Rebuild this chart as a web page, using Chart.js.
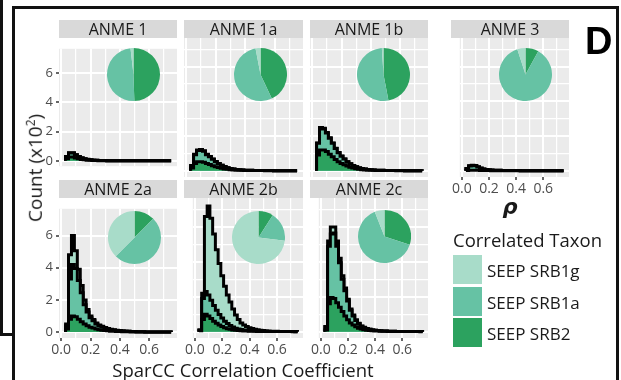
<!DOCTYPE html>
<html>
<head>
<meta charset="utf-8">
<script src="https://cdn.jsdelivr.net/npm/chart.js@4.4.1/dist/chart.umd.min.js"></script>
<style>
  body { margin: 0; background: #fff; }
  #fig { position: relative; width: 621px; height: 380px; overflow: hidden; font-family: 'Open Sans', sans-serif; }
  #fig canvas { position: absolute; }
  .strip { position: absolute; height: 18px; line-height: 18px; background: #d9d9d9; color: #1a1a1a; font-size: 16px; text-align: center; }
  .rule { position: absolute; background: #111; }
  .txt { position: absolute; white-space: nowrap; color: #1a1a1a; }
  .key { position: absolute; width: 29px; height: 29px; }
</style>
</head>
<body>
<div id="fig"></div>
<script>
// facets and taxa
const facets = ['ANME 1', 'ANME 1a', 'ANME 1b', 'ANME 3', 'ANME 2a', 'ANME 2b', 'ANME 2c'];
const taxa = ['SEEP SRB1g', 'SEEP SRB1a', 'SEEP SRB2'];
const taxonColors = ['#a8dcc9', '#66c2a4', '#2ca25f'];

// histogram bin edges (SparCC rho), bins are 0.02 wide
const binEdges = [0.03, 0.05, 0.07, 0.09, 0.11, 0.13, 0.15, 0.17, 0.19, 0.21, 0.23, 0.25,
  0.27, 0.29, 0.31, 0.33, 0.35, 0.37, 0.39, 0.41, 0.43, 0.45, 0.47, 0.49, 0.51, 0.53,
  0.55, 0.57, 0.59, 0.61, 0.63, 0.65, 0.67, 0.69, 0.71, 0.73, 0.75];

const xGrid = [0, 0.1, 0.2, 0.3, 0.4, 0.5, 0.6, 0.7];
const xTickLabels = [0, 0.2, 0.4, 0.6];
const yGrid = [0, 1, 2, 3, 4, 5, 6, 7];
const yTickLabels = [0, 2, 4, 6];

// counts (x10^2) per bin
const anme1_srb2  = [0.15, 0.27, 0.27, 0.2, 0.15, 0.1, 0.07, 0.05, 0.035, 0.025, 0.02, 0.015, 0.012, 0.01, 0.008, 0.006, 0.005, 0.004, 0.004, 0.003, 0.003, 0.002, 0.002, 0.002, 0.001, 0.001, 0.001, 0.001, 0.001, 0.001, 0, 0, 0, 0, 0, 0];
const anme1_srb1a = [0.14, 0.26, 0.27, 0.21, 0.14, 0.1, 0.07, 0.05, 0.035, 0.025, 0.02, 0.015, 0.012, 0.01, 0.008, 0.006, 0.005, 0.004, 0.004, 0.003, 0.003, 0.002, 0.002, 0.002, 0.001, 0.001, 0.001, 0.001, 0.001, 0.001, 0, 0, 0, 0, 0, 0];
const anme1_srb1g = [0.01, 0.02, 0.02, 0.01, 0.01, 0.005, 0.004, 0.003, 0.002, 0.002, 0.001, 0.001, 0, 0, 0, 0, 0, 0, 0, 0, 0, 0, 0, 0, 0, 0, 0, 0, 0, 0, 0, 0, 0, 0, 0, 0];

const anme1a_srb2  = [0.15, 0.42, 0.52, 0.52, 0.48, 0.42, 0.35, 0.28, 0.22, 0.18, 0.14, 0.1, 0.08, 0.06, 0.04, 0.03, 0.025, 0.02, 0.015, 0.012, 0.01, 0.008, 0.006, 0.005, 0.004, 0.003, 0.002, 0.002, 0.002, 0.001, 0.001, 0.001, 0.001, 0, 0, 0];
const anme1a_srb1a = [0.14, 0.5, 0.64, 0.66, 0.64, 0.5, 0.45, 0.38, 0.29, 0.23, 0.17, 0.13, 0.09, 0.06, 0.05, 0.04, 0.025, 0.02, 0.015, 0.012, 0.01, 0.008, 0.006, 0.005, 0.004, 0.003, 0.003, 0.002, 0.001, 0.002, 0.001, 0.001, 0, 0.001, 0.001, 0];
const anme1a_srb1g = [0.01, 0.03, 0.04, 0.04, 0.03, 0.03, 0.02, 0.02, 0.015, 0.01, 0.01, 0.008, 0.005, 0.004, 0.003, 0.002, 0.002, 0.001, 0.001, 0.001, 0, 0, 0, 0, 0, 0, 0, 0, 0, 0, 0, 0, 0, 0, 0, 0];

const anme1b_srb2  = [0.9, 1.2, 1.2, 1.1, 0.95, 0.8, 0.65, 0.52, 0.42, 0.34, 0.27, 0.2, 0.15, 0.11, 0.08, 0.06, 0.04, 0.03, 0.025, 0.02, 0.015, 0.012, 0.01, 0.008, 0.006, 0.005, 0.004, 0.003, 0.002, 0.002, 0.002, 0.001, 0.001, 0.001, 0, 0];
const anme1b_srb1a = [0.68, 1.26, 1.21, 1.07, 0.92, 0.78, 0.63, 0.52, 0.42, 0.33, 0.24, 0.2, 0.15, 0.11, 0.08, 0.06, 0.05, 0.04, 0.025, 0.02, 0.015, 0.013, 0.01, 0.007, 0.006, 0.005, 0.004, 0.003, 0.003, 0.002, 0.001, 0.002, 0.001, 0.001, 0.001, 0.001];
const anme1b_srb1g = [0.02, 0.04, 0.04, 0.03, 0.03, 0.02, 0.02, 0.015, 0.01, 0.01, 0.008, 0.005, 0.004, 0.003, 0.002, 0.002, 0.001, 0.001, 0.001, 0, 0, 0, 0, 0, 0, 0, 0, 0, 0, 0, 0, 0, 0, 0, 0, 0];

const anme3_srb2  = [0.01, 0.02, 0.03, 0.03, 0.02, 0.01, 0.01, 0.006, 0.004, 0.003, 0.002, 0.002, 0.001, 0.001, 0.001, 0, 0, 0, 0, 0, 0, 0, 0, 0, 0, 0, 0, 0, 0, 0, 0, 0, 0, 0, 0, 0];
const anme3_srb1a = [0.1, 0.245, 0.275, 0.255, 0.19, 0.132, 0.085, 0.06, 0.043, 0.035, 0.026, 0.022, 0.018, 0.013, 0.011, 0.01, 0.008, 0.006, 0.005, 0.004, 0.003, 0.003, 0.002, 0.002, 0.001, 0.001, 0.001, 0.001, 0.001, 0, 0, 0, 0, 0, 0, 0];
const anme3_srb1g = [0.01, 0.015, 0.015, 0.015, 0.01, 0.008, 0.005, 0.004, 0.003, 0.002, 0.002, 0.001, 0.001, 0.001, 0, 0, 0, 0, 0, 0, 0, 0, 0, 0, 0, 0, 0, 0, 0, 0, 0, 0, 0, 0, 0, 0];

const anme2a_srb2  = [0.2, 0.8, 1.0, 0.95, 0.8, 0.65, 0.5, 0.4, 0.3, 0.25, 0.2, 0.15, 0.12, 0.1, 0.08, 0.06, 0.05, 0.04, 0.035, 0.03, 0.025, 0.02, 0.015, 0.012, 0.01, 0.008, 0.006, 0.005, 0.004, 0.003, 0.003, 0.002, 0.002, 0.001, 0.001, 0.001];
const anme2a_srb1a = [0.2, 2.5, 3.2, 3.0, 2.4, 1.8, 1.2, 0.85, 0.6, 0.45, 0.3, 0.25, 0.2, 0.15, 0.12, 0.1, 0.08, 0.06, 0.05, 0.04, 0.035, 0.03, 0.025, 0.02, 0.015, 0.012, 0.01, 0.008, 0.006, 0.005, 0.004, 0.003, 0.002, 0.002, 0.001, 0.001];
const anme2a_srb1g = [0.1, 1.5, 1.8, 1.1, 0.7, 0.45, 0.3, 0.15, 0.1, 0.08, 0.06, 0.05, 0.04, 0.03, 0.025, 0.02, 0.015, 0.012, 0.01, 0.008, 0.006, 0.005, 0.004, 0.003, 0.002, 0.002, 0.001, 0.001, 0.001, 0.001, 0, 0, 0, 0, 0, 0];

const anme2b_srb2  = [0.05, 0.7, 1.0, 0.9, 0.75, 0.6, 0.48, 0.38, 0.3, 0.22, 0.17, 0.13, 0.1, 0.08, 0.06, 0.05, 0.04, 0.03, 0.025, 0.02, 0.015, 0.012, 0.01, 0.008, 0.006, 0.005, 0.004, 0.003, 0.002, 0.002, 0.001, 0.001, 0.001, 0.001, 0, 0];
const anme2b_srb1a = [0.05, 1.2, 1.3, 1.2, 1.05, 0.9, 0.75, 0.6, 0.48, 0.38, 0.3, 0.22, 0.16, 0.12, 0.09, 0.07, 0.05, 0.04, 0.03, 0.025, 0.02, 0.015, 0.012, 0.01, 0.008, 0.006, 0.005, 0.004, 0.003, 0.002, 0.002, 0.001, 0.001, 0.001, 0.001, 0];
const anme2b_srb1g = [0, 0.3, 4.3, 5.1, 4.7, 4.1, 3.47, 2.92, 2.42, 2.0, 1.63, 1.35, 1.04, 0.75, 0.55, 0.38, 0.29, 0.23, 0.17, 0.13, 0.1, 0.08, 0.06, 0.04, 0.03, 0.025, 0.02, 0.015, 0.012, 0.01, 0.008, 0.006, 0.005, 0.004, 0.003, 0.002];

const anme2c_srb2  = [0.1, 1.6, 1.95, 1.9, 1.65, 1.4, 1.15, 0.9, 0.68, 0.5, 0.38, 0.28, 0.2, 0.15, 0.11, 0.08, 0.06, 0.05, 0.04, 0.03, 0.025, 0.02, 0.015, 0.012, 0.01, 0.008, 0.006, 0.005, 0.004, 0.003, 0.002, 0.002, 0.001, 0.001, 0.001, 0];
const anme2c_srb1a = [0.18, 3.3, 3.65, 3.75, 3.25, 2.55, 1.85, 1.45, 1.07, 0.72, 0.52, 0.36, 0.25, 0.16, 0.12, 0.09, 0.07, 0.05, 0.04, 0.03, 0.025, 0.02, 0.015, 0.012, 0.01, 0.008, 0.006, 0.005, 0.004, 0.003, 0.003, 0.002, 0.002, 0.001, 0.001, 0.001];
const anme2c_srb1g = [0.02, 0.3, 0.4, 0.35, 0.3, 0.25, 0.2, 0.15, 0.1, 0.08, 0.05, 0.04, 0.03, 0.02, 0.015, 0.012, 0.01, 0.008, 0.006, 0.005, 0.004, 0.003, 0.002, 0.002, 0.001, 0.001, 0.001, 0, 0, 0, 0, 0, 0, 0, 0, 0];

// pie shares: SRB2, SRB1a, SRB1g (clockwise from 12 o'clock)
const pie_anme1  = [0.495, 0.487, 0.018];
const pie_anme1a = [0.43, 0.54, 0.03];
const pie_anme1b = [0.47, 0.52, 0.01];
const pie_anme3  = [0.08, 0.87, 0.05];
const pie_anme2a = [0.125, 0.5, 0.375];
const pie_anme2b = [0.09, 0.18, 0.73];
const pie_anme2c = [0.3, 0.64, 0.06];

const fig = document.getElementById('fig');

// where each facet sits on the page
const layout = [
  { name: 'ANME 1',  left: 59,  top: 38,  w: 118, h: 139, yAxis: true,  xAxis: false, pieAt: [133.5, 74],  srb2: anme1_srb2,  srb1a: anme1_srb1a,  srb1g: anme1_srb1g,  pie: pie_anme1 },
  { name: 'ANME 1a', left: 184, top: 38,  w: 119, h: 139, yAxis: false, xAxis: false, pieAt: [260, 74],    srb2: anme1a_srb2, srb1a: anme1a_srb1a, srb1g: anme1a_srb1g, pie: pie_anme1a },
  { name: 'ANME 1b', left: 310, top: 38,  w: 118, h: 139, yAxis: false, xAxis: false, pieAt: [383.5, 74],  srb2: anme1b_srb2, srb1a: anme1b_srb1a, srb1g: anme1b_srb1g, pie: pie_anme1b },
  { name: 'ANME 3',  left: 451, top: 38,  w: 118, h: 139, yAxis: false, xAxis: true,  pieAt: [525.5, 74],  srb2: anme3_srb2,  srb1a: anme3_srb1a,  srb1g: anme3_srb1g,  pie: pie_anme3 },
  { name: 'ANME 2a', left: 59,  top: 198, w: 118, h: 140, yAxis: true,  xAxis: true,  pieAt: [134, 237.5], srb2: anme2a_srb2, srb1a: anme2a_srb1a, srb1g: anme2a_srb1g, pie: pie_anme2a },
  { name: 'ANME 2b', left: 184, top: 198, w: 119, h: 140, yAxis: false, xAxis: true,  pieAt: [258.5, 237], srb2: anme2b_srb2, srb1a: anme2b_srb1a, srb1g: anme2b_srb1g, pie: pie_anme2b },
  { name: 'ANME 2c', left: 310, top: 198, w: 118, h: 140, yAxis: false, xAxis: true,  pieAt: [384, 236.5], srb2: anme2c_srb2, srb1a: anme2c_srb1a, srb1g: anme2c_srb1g, pie: pie_anme2c }
];

const panelBg = {
  id: 'panelBg',
  beforeDraw(chart) {
    const { ctx, chartArea: a } = chart;
    ctx.save();
    ctx.fillStyle = '#ebebeb';
    ctx.fillRect(a.left, a.top, a.right - a.left, a.bottom - a.top);
    ctx.restore();
  }
};

function addCanvas(left, top, w, h) {
  const c = document.createElement('canvas');
  c.width = w; c.height = h;
  c.style.left = left + 'px'; c.style.top = top + 'px';
  c.style.width = w + 'px'; c.style.height = h + 'px';
  fig.appendChild(c);
  return c;
}

function addDiv(cls, css, text) {
  const d = document.createElement('div');
  d.className = cls;
  Object.assign(d.style, css);
  if (text !== undefined) d.textContent = text;
  fig.appendChild(d);
  return d;
}

function stepPoints(vals) {
  const pts = [{ x: binEdges[0], y: 0 }];
  vals.forEach((v, i) => pts.push({ x: binEdges[i], y: v }));
  pts.push({ x: binEdges[binEdges.length - 1], y: 0 });
  return pts;
}

function layer(vals, color) {
  return {
    data: stepPoints(vals),
    stepped: true,
    borderColor: '#000',
    borderWidth: 3,
    backgroundColor: color,
    fill: 'origin',
    pointRadius: 0,
    borderJoinStyle: 'miter'
  };
}

function histogram(p) {
  const padL = p.yAxis ? 19 : 0;
  const padB = p.xAxis ? 24 : 0;
  const canvas = addCanvas(p.left - padL, p.top, p.w + padL, p.h + padB);

  // stacked: SRB2 at bottom, then SRB1a, then SRB1g
  const lowTop = p.srb2;
  const midTop = p.srb2.map((v, i) => v + p.srb1a[i]);
  const allTop = midTop.map((v, i) => v + p.srb1g[i]);

  const tickFont = { family: "'Open Sans', sans-serif", size: 13 };
  new Chart(canvas, {
    type: 'line',
    data: {
      datasets: [
        layer(lowTop, taxonColors[2]),
        layer(midTop, taxonColors[1]),
        layer(allTop, taxonColors[0])
      ]
    },
    options: {
      responsive: false,
      animation: false,
      devicePixelRatio: 1,
      events: [],
      layout: { padding: 0 },
      plugins: { legend: { display: false }, tooltip: { enabled: false } },
      scales: {
        x: {
          type: 'linear', min: -0.015, max: 0.79,
          afterBuildTicks: s => { s.ticks = xGrid.map(v => ({ value: v })); },
          afterFit: s => { s.height = padB; },
          border: { display: false },
          grid: {
            color: '#fff',
            lineWidth: c => xTickLabels.includes(c.tick.value) ? 2 : 1.2,
            drawTicks: p.xAxis,
            tickLength: 3,
            tickWidth: 1.5,
            tickColor: c => xTickLabels.includes(c.tick.value) ? '#333' : 'rgba(0,0,0,0)'
          },
          ticks: {
            display: p.xAxis,
            autoSkip: false, maxRotation: 0, padding: 1,
            color: '#4d4d4d', font: { ...tickFont, size: 14 },
            callback: v => xTickLabels.includes(v) ? v.toFixed(1) : ''
          }
        },
        y: {
          type: 'linear', min: -0.365, max: 7.66,
          afterBuildTicks: s => { s.ticks = yGrid.map(v => ({ value: v })); },
          afterFit: s => { s.width = padL; },
          border: { display: false },
          grid: {
            color: '#fff',
            lineWidth: c => yTickLabels.includes(c.tick.value) ? 2 : 1.2,
            drawTicks: p.yAxis,
            tickLength: 3,
            tickWidth: 1.5,
            tickColor: c => yTickLabels.includes(c.tick.value) ? '#333' : 'rgba(0,0,0,0)'
          },
          ticks: {
            display: p.yAxis,
            padding: 3,
            color: '#4d4d4d', font: tickFont,
            callback: v => yTickLabels.includes(v) ? String(v) : ''
          }
        }
      }
    },
    plugins: [panelBg]
  });

  addDiv('strip', { left: p.left + 'px', top: (p.top - 18) + 'px', width: p.w + 'px' }, p.name);

  const r = 26.5;
  const pc = addCanvas(p.pieAt[0] - r, p.pieAt[1] - r, 2 * r, 2 * r);
  new Chart(pc, {
    type: 'pie',
    data: {
      labels: ['SEEP SRB2', 'SEEP SRB1a', 'SEEP SRB1g'],
      datasets: [{ data: p.pie, backgroundColor: [taxonColors[2], taxonColors[1], taxonColors[0]], borderWidth: 0 }]
    },
    options: {
      responsive: false, animation: false, devicePixelRatio: 1, events: [],
      layout: { padding: 0 },
      plugins: { legend: { display: false }, tooltip: { enabled: false } }
    }
  });
}

layout.forEach(histogram);

// frame lines around the figure part
addDiv('rule', { left: '13px', top: '6px', width: '605px', height: '3px' });
addDiv('rule', { left: '12px', top: '6px', width: '3px', height: '380px' });
addDiv('rule', { left: '616px', top: '6px', width: '3px', height: '380px' });
addDiv('rule', { left: '0px', top: '0px', width: '3px', height: '336px' });
addDiv('rule', { left: '0px', top: '333px', width: '13px', height: '3px' });

// axis titles
const yTitle = addDiv('txt', { left: '35px', top: '168px', fontSize: '19px', transform: 'translate(-50%, -50%) rotate(-90deg)' }, 'Count (x10');
const sup = document.createElement('sup');
sup.textContent = '2';
sup.style.fontSize = '12px';
yTitle.appendChild(sup);
yTitle.appendChild(document.createTextNode(')'));

addDiv('txt', { left: '243px', top: '369px', fontSize: '18.5px', transform: 'translate(-50%, -50%)' }, 'SparCC Correlation Coefficient');
addDiv('txt', { left: '510px', top: '207px', fontSize: '21px', fontStyle: 'italic', fontWeight: 'bold', fontFamily: "'DejaVu Sans', sans-serif", transform: 'translate(-50%, -50%)' }, 'ρ');
addDiv('txt', { left: '585px', top: '20px', fontSize: '38px', fontWeight: 'bold', fontFamily: "'Liberation Sans', sans-serif", color: '#000' }, 'D');

// legend
addDiv('txt', { left: '453px', top: '239px', fontSize: '18.5px', transform: 'translateY(-50%)' }, 'Correlated Taxon');
const keyTops = [255, 287, 318];
taxa.forEach((t, i) => {
  addDiv('key', { left: '453px', top: keyTops[i] + 'px', background: taxonColors[i] });
  addDiv('txt', { left: '487px', top: (keyTops[i] + 14.5) + 'px', fontSize: '17px', transform: 'translateY(-50%)' }, t);
});
</script>
</body>
</html>
